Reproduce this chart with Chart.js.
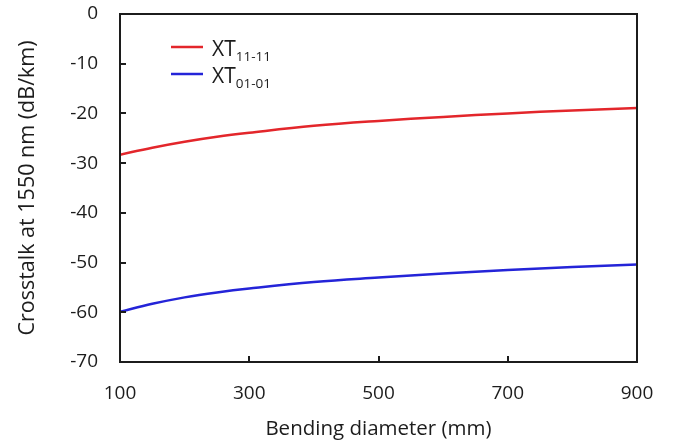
<!DOCTYPE html>
<html>
<head>
<meta charset="utf-8">
<script src="https://cdn.jsdelivr.net/npm/chart.js@4"></script>
<style>
  html, body { margin: 0; padding: 0; background: #fff; }
  #wrap { width: 679px; height: 445px; }
</style>
</head>
<body>
<div id="wrap"><canvas id="xtChart" width="679" height="445"></canvas></div>
<script>
// ========================================
// DATOS
// ========================================
const diametros = [100, 150, 200, 250, 300, 400, 500, 600, 700, 800, 900];
const xt1111 = [-28.3, -26.9, -25.7, -24.7, -23.9, -22.5, -21.5, -20.7, -20.0, -19.4, -18.9];
const xt0101 = [-59.9, -58.3, -57.0, -56.0, -55.2, -53.9, -53.0, -52.2, -51.5, -50.9, -50.4];
const seriesBase = ['XT', 'XT'];
const seriesSub = ['11-11', '01-01'];
const seriesColor = ['#e3262b', '#2424d8'];
const xTicks = [100, 300, 500, 700, 900];
const yTicks = [0, -10, -20, -30, -40, -50, -60, -70];

const FUENTE = "'Open Sans', 'DejaVu Sans', sans-serif";
const TINTA = '#1c1c1c';

function puntos(valores) {
    return diametros.map((d, i) => ({ x: d, y: valores[i] }));
}

// ========================================
// MARCO, TICKS INTERIORES Y LEYENDA
// ========================================
const marcoPlugin = {
    id: 'marco',
    afterDatasetsDraw(chart) {
        const { ctx, chartArea: a, scales } = chart;
        ctx.save();
        ctx.strokeStyle = TINTA;
        ctx.lineWidth = 2;
        ctx.strokeRect(a.left, a.top, a.right - a.left, a.bottom - a.top);

        ctx.beginPath();
        yTicks.forEach(v => {
            const py = Math.round(scales.y.getPixelForValue(v));
            ctx.moveTo(a.left, py);
            ctx.lineTo(a.left + 6, py);
        });
        xTicks.forEach(v => {
            const px = Math.round(scales.x.getPixelForValue(v));
            ctx.moveTo(px, a.bottom);
            ctx.lineTo(px, a.bottom - 6);
        });
        ctx.stroke();

        // leyenda con subíndices
        const filas = [47, 74];
        filas.forEach((fy, i) => {
            ctx.strokeStyle = seriesColor[i];
            ctx.lineWidth = 2.5;
            ctx.beginPath();
            ctx.moveTo(171, fy);
            ctx.lineTo(203, fy);
            ctx.stroke();

            ctx.fillStyle = TINTA;
            ctx.textBaseline = 'alphabetic';
            ctx.textAlign = 'left';
            ctx.font = '21px ' + FUENTE;
            ctx.fillText(seriesBase[i], 212, fy + 9);
            const w = ctx.measureText(seriesBase[i]).width;
            ctx.font = '13.5px ' + FUENTE;
            ctx.fillText(seriesSub[i], 212 + w, fy + 14);
        });
        ctx.restore();
    }
};

// ========================================
// GRÁFICO
// ========================================
const ctx = document.getElementById('xtChart').getContext('2d');
new Chart(ctx, {
    type: 'line',
    data: {
        datasets: [
            {
                label: seriesBase[0] + seriesSub[0],
                data: puntos(xt1111),
                borderColor: seriesColor[0],
                borderWidth: 2.5,
                pointRadius: 0,
                tension: 0.4,
                fill: false
            },
            {
                label: seriesBase[1] + seriesSub[1],
                data: puntos(xt0101),
                borderColor: seriesColor[1],
                borderWidth: 2.5,
                pointRadius: 0,
                tension: 0.4,
                fill: false
            }
        ]
    },
    options: {
        responsive: false,
        animation: false,
        layout: { padding: { top: 14, right: 42, left: 0, bottom: 0 } },
        plugins: {
            legend: { display: false },
            tooltip: { enabled: false }
        },
        scales: {
            x: {
                type: 'linear',
                min: 100,
                max: 900,
                afterBuildTicks: s => { s.ticks = xTicks.map(v => ({ value: v })); },
                afterFit: s => { s.height = 83; s.paddingLeft = 0; s.paddingRight = 0; },
                grid: { display: false, drawTicks: false },
                border: { display: false },
                ticks: {
                    padding: 20,
                    color: TINTA,
                    maxRotation: 0,
                    font: { family: FUENTE, size: 19 }
                },
                title: {
                    display: true,
                    text: 'Bending diameter (mm)',
                    color: TINTA,
                    padding: { top: 0, bottom: 4 },
                    font: { family: FUENTE, size: 20.5 }
                }
            },
            y: {
                type: 'linear',
                min: -70,
                max: 0,
                afterBuildTicks: s => { s.ticks = yTicks.map(v => ({ value: v })); },
                afterFit: s => { s.width = 120; s.paddingTop = 0; s.paddingBottom = 0; },
                grid: { display: false, drawTicks: false },
                border: { display: false },
                ticks: {
                    padding: 22,
                    color: TINTA,
                    font: { family: FUENTE, size: 19 }
                },
                title: {
                    display: true,
                    text: 'Crosstalk at 1550 nm (dB/km)',
                    color: TINTA,
                    padding: { top: 15, bottom: 0 },
                    font: { family: FUENTE, size: 21.5 }
                }
            }
        }
    },
    plugins: [marcoPlugin]
});
</script>
</body>
</html>
